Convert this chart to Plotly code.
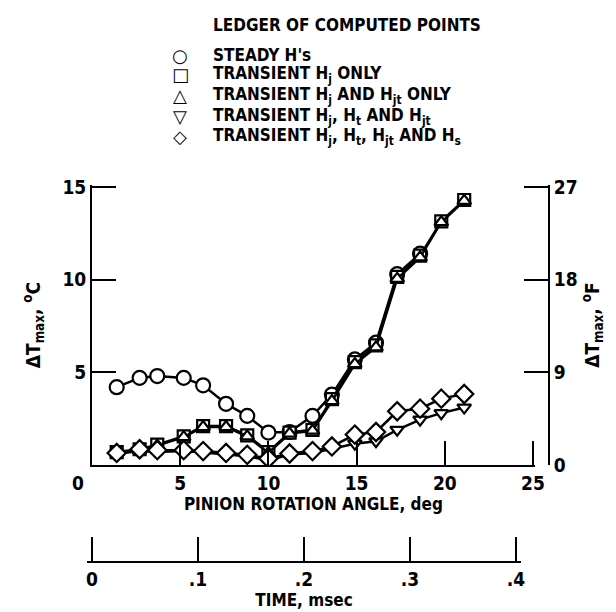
import plotly.graph_objects as go

# ---- data ----
angle_deg = [1.4, 2.7, 3.7, 5.2, 6.3, 7.6, 8.8, 10.0, 11.2, 12.5, 13.6, 14.9, 16.1, 17.3, 18.6, 19.8, 21.1]

steady = [4.2, 4.7, 4.8, 4.7, 4.3, 3.3, 2.65, 1.75, 1.78, 2.65, 3.8, 5.7, 6.6, 10.3, 11.4]
hj_only = [0.7, 0.85, 1.1, 1.55, 2.1, 2.1, 1.6, 0.7, 1.75, 1.9, 3.55, 5.55, 6.45, 10.15, 11.3, 13.15, 14.3]
hj_hjt = [0.65, 0.8, 1.05, 1.5, 2.05, 2.05, 1.55, 0.65, 1.7, 1.85, 3.45, 5.45, 6.35, 10.05, 11.2, 13.1, 14.25]
hj_ht_hjt = [0.6, 0.75, 0.7, 0.75, 0.68, 0.56, 0.47, 0.25, 0.56, 0.65, 0.88, 1.15, 1.28, 1.9, 2.45, 2.8, 3.1]
hj_ht_hjt_hs = [0.65, 0.85, 0.8, 0.8, 0.75, 0.65, 0.55, 0.35, 0.62, 0.75, 1.0, 1.64, 1.78, 2.9, 3.04, 3.58, 3.83]

x_ticks = [5, 10, 15, 20, 25]
yc_ticks = [5, 10, 15]
yf_ticks = [0, 9, 18, 27]
time_ticks = [0, 0.1, 0.2, 0.3, 0.4]
time_labels = ["0", ".1", ".2", ".3", ".4"]

legend_title = "LEDGER OF COMPUTED POINTS"
legend_symbols = ["○", "□", "△", "▽", "◇"]
legend_names = [
    "STEADY H's",
    "TRANSIENT H<sub>j</sub> ONLY",
    "TRANSIENT H<sub>j</sub> AND H<sub>jt</sub> ONLY",
    "TRANSIENT H<sub>j</sub>, H<sub>t</sub> AND H<sub>jt</sub>",
    "TRANSIENT H<sub>j</sub>, H<sub>t</sub>, H<sub>jt</sub> AND H<sub>s</sub>",
]
series_values = [steady, hj_only, hj_hjt, hj_ht_hjt, hj_ht_hjt_hs]
series_symbols = ["circle", "square", "triangle-up", "triangle-down", "diamond"]
series_sizes = [14, 12, 12, 12, 14]

FONT = "DejaVu Sans Condensed, Liberation Sans Narrow, sans-serif"
BOLD = "bold"

# ---- pixel geometry of the frame ----
W, H = 616, 612
L, R, T, B = 78, 541, 170, 554          # plot area in px
PW, PH = R - L, B - T


def px(xp):
    return (xp - L) / PW


def py(yp):
    return (B - yp) / PH


fig = go.Figure()

for name, vals, sym, sz in zip(legend_names, series_values, series_symbols, series_sizes):
    fig.add_trace(go.Scatter(
        x=angle_deg[:len(vals)], y=vals, mode="lines+markers", name=name,
        line=dict(color="black", width=2.5),
        marker=dict(symbol=sym, size=sz, color="white", line=dict(color="black", width=2.2)),
        showlegend=False, hoverinfo="skip"))

# carrier for the time axis
fig.add_trace(go.Scatter(x=[time_ticks[0], time_ticks[-1]], y=[0, 0], xaxis="x3", yaxis="y",
                         mode="markers", marker=dict(opacity=0), showlegend=False, hoverinfo="skip"))
# carrier for the °F axis
fig.add_trace(go.Scatter(x=[0], y=[0], xaxis="x", yaxis="y2",
                         mode="markers", marker=dict(opacity=0), showlegend=False, hoverinfo="skip"))

ax_common = dict(showline=True, linecolor="black", linewidth=2, ticks="inside", ticklen=24,
                 tickwidth=2, tickcolor="black", showgrid=False, zeroline=False,
                 tickfont=dict(family=FONT, size=19, color="black", weight=BOLD))

# main angle axis: 0 deg at x=84, 25 deg at x=525
ppd = (525 - 84) / 25.0
x_dom = [px(84), px(84 + 25.1 * ppd)]
# °C axis: 0 at y=457, 15 at y=179
ppc = (457 - 179) / 15.0
y_dom = [py(457), py(457 - 15.1 * ppc)]
# time axis: 0 at x=84, 0.4 at x=508
ppt = (508 - 84) / 0.4
t_dom = [px(84 - 0.005 * ppt), px(508 + 0.005 * ppt)]

fig.update_layout(
    width=W, height=H,
    margin=dict(l=L, r=W - R, t=T, b=H - B, autoexpand=False),
    paper_bgcolor="white", plot_bgcolor="rgba(0,0,0,0)",
    font=dict(family=FONT, color="black", weight=BOLD),
    showlegend=False,
    xaxis=dict(domain=x_dom, range=[0, 25.1], tickvals=x_ticks, anchor="y",
               title=dict(text="PINION ROTATION ANGLE, deg", font=dict(size=17, weight=BOLD), standoff=4),
               **ax_common),
    yaxis=dict(domain=y_dom, range=[0, 15.1], tickvals=yc_ticks, anchor="x",
               title=dict(text="ΔT<sub>max</sub>, <sup>o</sup>C", font=dict(size=19, weight=BOLD), standoff=17),
               **ax_common),
    yaxis2=dict(range=[0, 27.18], tickvals=yf_ticks, overlaying="y", side="right",
                anchor="free", position=1.0,
                title=dict(text="ΔT<sub>max</sub>, <sup>o</sup>F", font=dict(size=19, weight=BOLD), standoff=8),
                **ax_common),
    xaxis3=dict(domain=t_dom, range=[-0.005, 0.405], tickvals=time_ticks, ticktext=time_labels,
                anchor="free", position=0,
                title=dict(text="TIME, msec", font=dict(size=17, weight=BOLD), standoff=4),
                **ax_common),
)

ann = [dict(text=legend_title, x=px(203), y=py(17), xref="paper", yref="paper",
            xanchor="left", yanchor="middle", showarrow=False, font=dict(size=17, weight=BOLD))]
row_y = [47, 67, 88, 108, 128]
for sym, name, yy in zip(legend_symbols, legend_names, row_y):
    ann.append(dict(text=sym, x=px(172), y=py(yy), xref="paper", yref="paper",
                    xanchor="center", yanchor="middle", showarrow=False,
                    font=dict(family="DejaVu Sans", size=18, weight=BOLD)))
    ann.append(dict(text=name, x=px(203), y=py(yy), xref="paper", yref="paper",
                    xanchor="left", yanchor="middle", showarrow=False, font=dict(size=17, weight=BOLD)))
# corner zero of the angle scale
ann.append(dict(text="0", x=0, y=0, xref="x", yref="y", xshift=-14, yshift=-18,
                showarrow=False, font=dict(size=19, weight=BOLD)))
fig.update_layout(annotations=ann)

fig.write_html("out.html")
